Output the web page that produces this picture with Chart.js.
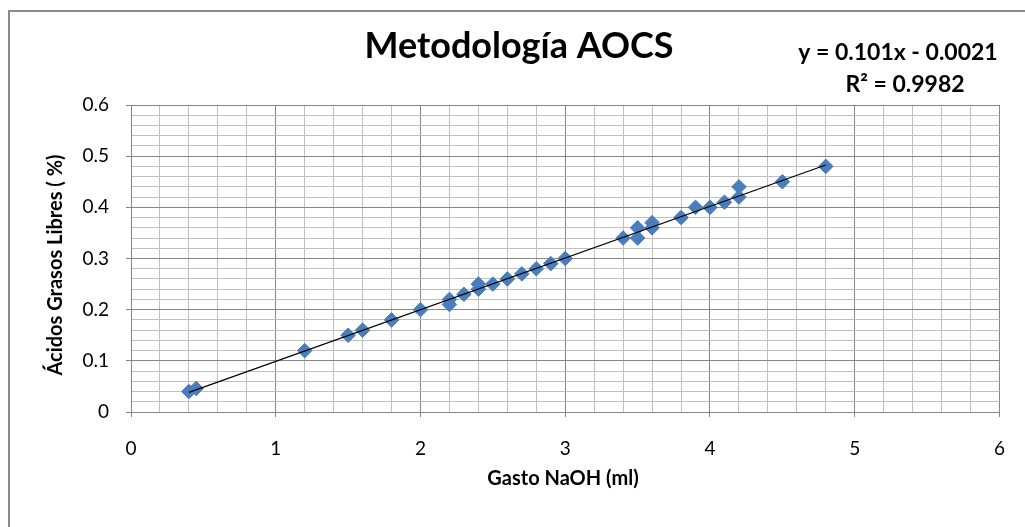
<!DOCTYPE html>
<html>
<head>
<meta charset="utf-8">
<script src="https://cdn.jsdelivr.net/npm/chart.js@4.4.0/dist/chart.umd.min.js"></script>
<style>
html, body { margin: 0; padding: 0; background: #fff; }
#wrap { width: 1025px; height: 527px; }
</style>
</head>
<body>
<div id="wrap"><canvas id="chart" width="1025" height="527"></canvas></div>
<script>
// Chart texts
const chartTitle = 'Metodología AOCS';
const xTitle = 'Gasto NaOH (ml)';
const yTitle = 'Ácidos Grasos Libres ( %)';
const equationLines = ['y = 0.101x - 0.0021', 'R² = 0.9982'];

const gastoNaOH = [0.4, 0.45, 1.2, 1.5, 1.6, 1.8, 2.0, 2.2, 2.2, 2.3, 2.4, 2.4, 2.5, 2.6, 2.7, 2.8, 2.9, 3.0,
                   3.4, 3.5, 3.5, 3.6, 3.6, 3.8, 3.9, 4.0, 4.1, 4.2, 4.2, 4.5, 4.8];
const acidosLibres = [0.04, 0.046, 0.12, 0.15, 0.16, 0.18, 0.20, 0.21, 0.22, 0.23, 0.24, 0.25, 0.25, 0.26, 0.27, 0.28, 0.29, 0.30,
                      0.34, 0.34, 0.36, 0.36, 0.37, 0.38, 0.40, 0.40, 0.41, 0.42, 0.44, 0.45, 0.48];

// Trend line shown on the chart
const trendSlope = 0.101;
const trendIntercept = -0.0021;

// Axis ranges
const xMin = 0, xMax = 6, xMinorStep = 0.2;
const yMin = 0, yMax = 0.6, yMinorStep = 0.02;

const FONT = 'Lato';
const MAJOR = '#868686';
const MINOR = '#c0c0c0';

const scatterPoints = gastoNaOH.map((x, i) => ({ x: x, y: acidosLibres[i] }));
const trendX = [Math.min(...gastoNaOH), Math.max(...gastoNaOH)];
const trendPoints = trendX.map(x => ({ x: x, y: trendSlope * x + trendIntercept }));

function isMajor(v, per) {
    const s = v * per;
    return Math.abs(s - Math.round(s)) < 1e-6;
}

// Draw outer frame, title, equation and axis titles
const textPlugin = {
    id: 'texts',
    beforeDraw(chart) {
        const ctx = chart.ctx;
        ctx.save();
        ctx.strokeStyle = '#8a8a8a';
        ctx.lineWidth = 2;
        ctx.beginPath();
        ctx.moveTo(9, 560);
        ctx.lineTo(9, 11);
        ctx.lineTo(1040, 11);
        ctx.stroke();
        ctx.restore();
    },
    afterDraw(chart) {
        const ctx = chart.ctx;
        ctx.save();
        ctx.fillStyle = '#000';
        ctx.textAlign = 'center';
        ctx.textBaseline = 'alphabetic';

        ctx.font = 'bold 36px ' + FONT;
        ctx.fillText(chartTitle, 519, 58);

        ctx.font = 'bold 23px ' + FONT;
        ctx.fillText(equationLines[0], 898, 60);
        ctx.fillText(equationLines[1], 905, 92);

        ctx.font = 'bold 20px ' + FONT;
        ctx.fillText(xTitle, 563, 485);

        ctx.translate(62, 265);
        ctx.rotate(-Math.PI / 2);
        ctx.fillText(yTitle, 0, 0);
        ctx.restore();
    }
};

const ctx = document.getElementById('chart').getContext('2d');
const chart = new Chart(ctx, {
    type: 'scatter',
    data: {
        datasets: [{
            label: 'Trend',
            data: trendPoints,
            showLine: true,
            borderColor: '#000',
            borderWidth: 1.2,
            pointRadius: 0,
            order: 0
        }, {
            label: 'AGL',
            data: scatterPoints,
            pointStyle: 'rectRot',
            pointRadius: 7.3,
            backgroundColor: '#4A7EBB',
            borderColor: '#4A7EBB',
            borderWidth: 1,
            order: 1
        }]
    },
    plugins: [textPlugin],
    options: {
        responsive: false,
        animation: false,
        layout: { padding: { left: 0, top: 105, right: 24, bottom: 0 } },
        plugins: {
            legend: { display: false },
            title: { display: false },
            tooltip: { enabled: false }
        },
        scales: {
            x: {
                type: 'linear',
                min: xMin,
                max: xMax,
                afterFit(scale) { scale.height = 527 - 412; },
                ticks: {
                    stepSize: xMinorStep,
                    autoSkip: false,
                    maxRotation: 0,
                    padding: 20,
                    color: '#000',
                    font: { family: FONT, size: 19 },
                    callback: v => isMajor(v, 1) ? String(Math.round(v)) : ''
                },
                grid: {
                    color: c => isMajor(c.tick.value, 1) ? MAJOR : MINOR,
                    tickColor: c => isMajor(c.tick.value, 1) ? MAJOR : 'transparent',
                    tickLength: 5,
                    lineWidth: 1
                },
                border: { color: MAJOR, width: 1 }
            },
            y: {
                type: 'linear',
                min: yMin,
                max: yMax,
                afterFit(scale) { scale.width = 131; },
                ticks: {
                    stepSize: yMinorStep,
                    autoSkip: false,
                    padding: 17,
                    color: '#000',
                    font: { family: FONT, size: 19 },
                    callback: v => {
                        if (!isMajor(v, 10)) return '';
                        const r = Math.round(v * 10) / 10;
                        return r === 0 ? '0' : r.toFixed(1);
                    }
                },
                grid: {
                    color: c => isMajor(c.tick.value, 10) ? MAJOR : MINOR,
                    tickColor: c => isMajor(c.tick.value, 10) ? MAJOR : 'transparent',
                    tickLength: 5,
                    lineWidth: 1
                },
                border: { color: MAJOR, width: 1 }
            }
        }
    }
});
</script>
</body>
</html>
